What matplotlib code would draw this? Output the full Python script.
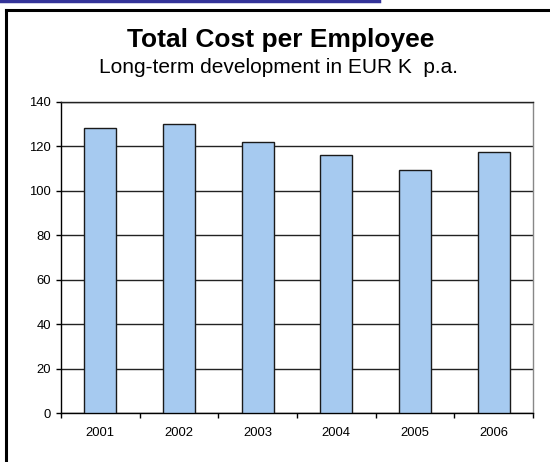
import matplotlib
matplotlib.use("Agg")
import matplotlib.pyplot as plt
from matplotlib.lines import Line2D

years = ["2001", "2002", "2003", "2004", "2005", "2006"]
cost = [128, 130, 122, 116, 109.5, 117.5]
y_ticks = [0, 20, 40, 60, 80, 100, 120, 140]

plt.rcParams['font.family'] = ['Liberation Sans', 'DejaVu Sans']

fig = plt.figure(figsize=(5.5, 4.62), dpi=100)
ax = fig.add_axes([0.111, 0.105, 0.858, 0.675])

x = range(len(years))
ax.bar(x, cost, width=0.41, color="#A6CAF0", edgecolor="#1a1a1a",
       linewidth=1.0, zorder=3)

ax.set_xlim(-0.5, len(years) - 0.5)
ax.set_ylim(0, 140)
ax.set_yticks(y_ticks)
ax.yaxis.grid(True, color="#222222", linewidth=1.0, zorder=0)
ax.set_axisbelow(True)

# ticks between categories, labels at centres
ax.set_xticks([i - 0.5 for i in range(len(years) + 1)])
ax.set_xticklabels([])
ax.set_xticks(list(x), minor=True)
ax.set_xticklabels(years, minor=True)
ax.tick_params(axis="x", which="minor", length=0, pad=9.5, labelsize=9.4)
ax.tick_params(axis="x", which="major", length=3.6, direction="out", width=1)
ax.tick_params(axis="y", length=3.6, direction="out", width=1, labelsize=9.4, pad=3.6)

ax.spines["left"].set_color("black")
ax.spines["bottom"].set_color("black")
ax.spines["top"].set_color("#222222")
ax.spines["right"].set_color("#888888")
for s in ax.spines.values():
    s.set_linewidth(1.0)

fig.text(0.511, 0.899, "Total Cost per Employee", ha="center", va="baseline",
         fontsize=19, fontweight="bold")
fig.text(0.506, 0.841, "Long-term development in EUR K  p.a.", ha="center",
         va="baseline", fontsize=15)

# frame and header strip
fig.add_artist(Line2D([6 / 550, 6 / 550], [0, 1 - 10 / 462],
                      transform=fig.transFigure, color="black", linewidth=2.2))
fig.add_artist(Line2D([6 / 550, 1], [1 - 10 / 462, 1 - 10 / 462],
                      transform=fig.transFigure, color="black", linewidth=2.2))
fig.add_artist(Line2D([0, 379 / 550], [1 - 1 / 462, 1 - 1 / 462],
                      transform=fig.transFigure, color="#333399", linewidth=2.5))

fig.savefig("out.png", dpi=100)
